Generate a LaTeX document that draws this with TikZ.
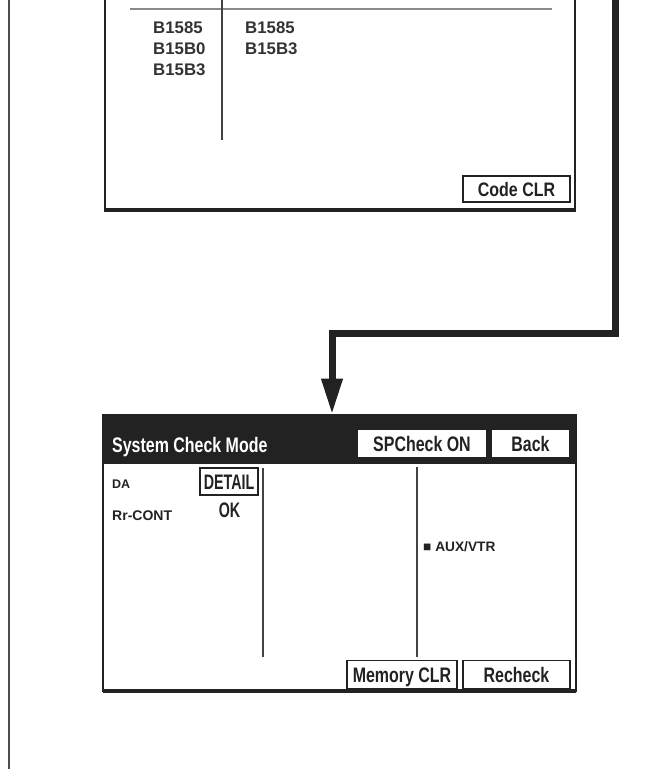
\documentclass[tikz,border=0pt]{standalone}
\usepackage{fontspec}
\setmainfont{Liberation Sans}
\newfontfamily\btnf[FakeStretch=0.76]{Liberation Sans}
\newfontfamily\narf[FakeStretch=0.68]{Liberation Sans}
\newfontfamily\clrf[FakeStretch=0.82]{Liberation Sans}
\usetikzlibrary{arrows.meta}
\definecolor{ink}{HTML}{222222}
\definecolor{codeink}{HTML}{333333}
\definecolor{rulegray}{HTML}{8A8A8A}
\begin{document}
\begin{tikzpicture}[x=1pt,y=-1pt,
  pageline/.style={draw=ink!80, line width=1.6},
  panelline/.style={draw=ink, line width=2.2},
  panelbottom/.style={draw=ink, line width=3.2},
  divider/.style={draw=ink!85, line width=1.4},
  btn/.style={draw=ink, line width=1.4, fill=white, inner sep=0, text=ink,
    text height=15pt, text depth=0pt,
    font=\btnf\bfseries\fontsize{21}{21}\selectfont},
  codetxt/.style={inner sep=0, text=codeink, anchor=base west,
    font=\bfseries\fontsize{16.8}{16.8}\selectfont},
  smalltxt/.style={inner sep=0, text=ink, anchor=base west,
    font=\bfseries\fontsize{14}{14}\selectfont},
  flow/.style={draw=ink, line width=7, line join=miter,
    -{Triangle[width=20pt,length=36pt]}}
]
\useasboundingbox (0,0) rectangle (667,769);
\clip (0,0) rectangle (667,769);

% page margin line
\draw[pageline] (9,-2) -- (9,771);

% ---------- top panel (cut at top) ----------
\draw[panelline] (105,-5) -- (105,210);
\draw[panelline] (575,-5) -- (575,210);
\draw[panelbottom] (103.9,210) -- (576.1,210);
\draw[draw=rulegray, line width=2] (130,9) -- (552,9);
\draw[divider] (222,-5) -- (222,140);

\node[codetxt] (c11) at (153,33) {B1585};
\node[codetxt] (c12) at (153,54) {B15B0};
\node[codetxt] (c13) at (153,75) {B15B3};
\node[codetxt] (c21) at (245,33) {B1585};
\node[codetxt] (c22) at (245,54) {B15B3};

\node[btn, font=\clrf\bfseries\fontsize{19.5}{19.5}\selectfont, text height=14pt,
      minimum width=107, minimum height=26] (codeclr) at (516.5,189) {Code CLR};

% ---------- bottom panel ----------
\node[draw=ink, line width=2.2, fill=white, inner sep=0, outer sep=0,
      minimum width=473, minimum height=276, anchor=north west] (panelB) at (103,415) {};
\draw[panelbottom] (panelB.south west) -- (panelB.south east);
\node[fill=ink, inner sep=0, outer sep=0, minimum width=474, minimum height=49,
      anchor=north west] (hdr) at (102,414.5) {};
\node[inner sep=0, anchor=base west, text=white,
      font=\btnf\bfseries\fontsize{21}{21}\selectfont] (title) at (112,452) {System Check Mode};
\node[btn, draw=white, minimum width=126, minimum height=26] (spcheck) at (422,443.5) {SPCheck ON};
\node[btn, draw=white, minimum width=75, minimum height=26] (back) at (530.5,443.5) {Back};

\node[btn, font=\narf\bfseries\fontsize{21}{21}\selectfont,
      minimum width=58, minimum height=27] (detail) at (229,481.5) {DETAIL};
\node[inner sep=0, anchor=base, text=ink,
      font=\narf\bfseries\fontsize{21}{21}\selectfont] (ok) at (229.5,517) {OK};

\node[smalltxt, font=\bfseries\fontsize{12.5}{12.5}\selectfont] (da) at (112,488) {DA};
\node[smalltxt] (rrcont) at (112,520) {Rr-CONT};
\node[smalltxt, font=\bfseries\fontsize{13.7}{13.7}\selectfont] (aux) at (423,551) {■ AUX/VTR};

\draw[divider] (263,468) -- (263,657);
\draw[divider] (417,467) -- (417,657);

\node[btn, minimum width=110, minimum height=28] (memclr) at (402,674.5) {Memory CLR};
\node[btn, minimum width=107, minimum height=28] (recheck) at (516.5,674.5) {Recheck};

% ---------- connector ----------
\coordinate (src) at (615,-10);
\coordinate (turn) at (332,333);
\draw[flow] (src) |- (turn) -- (turn |- hdr.north);
\end{tikzpicture}
\end{document}
